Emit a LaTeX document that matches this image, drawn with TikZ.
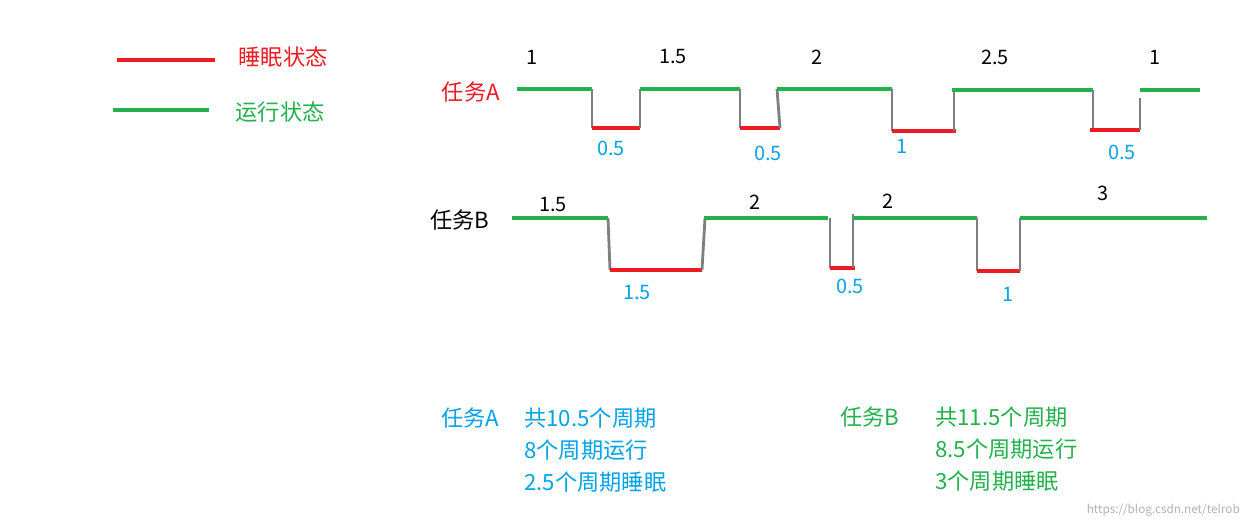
\documentclass[tikz,border=0pt]{standalone}
\usepackage{fontspec}
\setmainfont{Noto Sans CJK SC}
\definecolor{gr}{RGB}{34,177,76}
\definecolor{rd}{RGB}{237,28,36}
\definecolor{bl}{RGB}{0,162,232}
\definecolor{gy}{RGB}{127,127,127}
\begin{document}
\begin{tikzpicture}[x=0.03cm,y=-0.03cm,
  run/.style={gr,line width=3.4pt},
  slp/.style={rd,line width=3.4pt},
  edge/.style={gy,line width=2.4pt},
  lab/.style={font=\fontsize{17}{19}\selectfont,inner sep=0pt},
  cjk/.style={font=\fontsize{19}{21}\selectfont,inner sep=0pt},
  txt/.style={font=\fontsize{19}{22}\selectfont,inner sep=0pt,anchor=west}]
\useasboundingbox (0,0) rectangle (1246,527);
% legend
\draw[slp] (117,60) -- (215,60);
\node[cjk,rd] (l1) at (283,57) {睡眠状态};
\draw[run] (113,110) -- (209,110);
\node[cjk,gr] (l2) at (280,112) {运行状态};
% task A
\node[cjk,rd] (ta) at (471,92) {任务A};
\draw[run] (517,89) -- (592,89);
\draw[edge] (592,89) -- (592,128);
\draw[slp] (592,128) -- (640,128);
\draw[edge] (640,128) -- (640,89);
\draw[run] (640,89) -- (740,89);
\draw[edge] (740,89) -- (740,128);
\draw[slp] (740,128) -- (780,128);
\draw[edge] (780,128) -- (777,89);
\draw[run] (777,89) -- (892,89);
\draw[edge] (892,89) -- (892,131);
\draw[slp] (892,131) -- (956,131);
\draw[edge] (954,131) -- (954,89);
\draw[run] (952,90) -- (1093,90);
\draw[edge] (1093,90) -- (1093,130);
\draw[slp] (1090,130) -- (1140,130);
\draw[edge] (1140,130) -- (1140,98);
\draw[run] (1140,90) -- (1200,90);
\foreach \x/\t [count=\i] in {532/1,673/1.5,817/2,995/2.5,1155/1}
  \node[lab] (au\i) at (\x,57) {\t};
\node[lab,bl] (ad1) at (611,148) {0.5};
\node[lab,bl] (ad2) at (768,153) {0.5};
\node[lab,bl] (ad3) at (902,146) {1};
\node[lab,bl] (ad4) at (1122,152) {0.5};
% task B
\node[cjk] (tb) at (460,220) {任务B};
\draw[run] (512,218) -- (608,218);
\draw[edge] (608,218) -- (610,270);
\draw[slp] (610,270) -- (702,270);
\draw[edge] (702,270) -- (705,218);
\draw[run] (704,218) -- (828,218);
\draw[edge] (830,218) -- (830,268);
\draw[slp] (830,268) -- (855,268);
\draw[edge] (853,268) -- (853,214);
\draw[run] (853,218) -- (977,218);
\draw[edge] (977,218) -- (977,271);
\draw[slp] (977,271) -- (1020,271);
\draw[edge] (1020,271) -- (1020,218);
\draw[run] (1020,218) -- (1207,218);
\node[lab] (bu1) at (553,205) {1.5};
\node[lab] (bu2) at (755,202) {2};
\node[lab] (bu3) at (888,201) {2};
\node[lab] (bu4) at (1103,193) {3};
\node[lab,bl] (bd1) at (637,293) {1.5};
\node[lab,bl] (bd2) at (850,286) {0.5};
\node[lab,bl] (bd3) at (1008,294) {1};
% summaries
\node[txt,bl] (sa) at (441,418) {任务A};
\node[txt,bl] (sa1) at (524,418) {共10.5个周期};
\node[txt,bl] (sa2) at (524,450) {8个周期运行};
\node[txt,bl] (sa3) at (524,482) {2.5个周期睡眠};
\node[txt,gr] (sb) at (840,417) {任务B};
\node[txt,gr] (sb1) at (935,417) {共11.5个周期};
\node[txt,gr] (sb2) at (935,449) {8.5个周期运行};
\node[txt,gr] (sb3) at (935,481) {3个周期睡眠};
\node[font=\fontsize{10}{12}\selectfont,gray!60,inner sep=0pt,anchor=east] (wm) at (1240,510) {https://blog.csdn.net/telrob};
\end{tikzpicture}
\end{document}
